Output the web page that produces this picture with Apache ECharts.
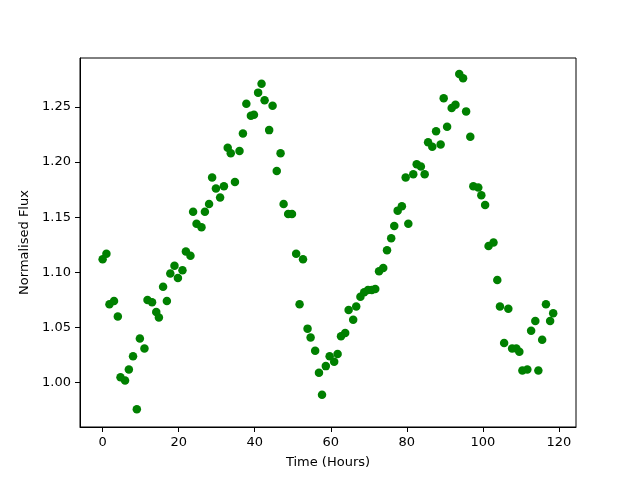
<!DOCTYPE html>
<html>
<head>
<meta charset="utf-8">
<script src="https://cdn.jsdelivr.net/npm/echarts@6/dist/echarts.min.js"></script>
<style>
  html, body { margin: 0; padding: 0; background: #fff; }
  #chart { width: 640px; height: 480px; }
</style>
</head>
<body>
<div id="chart"></div>
<script>
// time (hours) and normalised flux
var hours = [
  0, 1, 1.8, 3, 4, 4.7, 5.9, 6.9, 8, 9,
  9.8, 11, 11.8, 13, 14.1, 14.8, 15.9, 16.9, 17.8, 18.9,
  19.8, 21, 21.9, 23.1, 23.8, 24.7, 26, 26.9, 28, 28.8,
  29.8, 30.9, 31.9, 32.9, 33.7, 34.8, 36, 36.9, 37.8, 39,
  39.8, 40.9, 41.8, 42.6, 43.8, 44.7, 45.8, 46.8, 47.6, 48.8,
  49.8, 50.9, 51.8, 52.7, 53.9, 54.7, 55.9, 56.9, 57.7, 58.7,
  59.7, 60.9, 61.8, 62.7, 63.8, 64.7, 65.9, 66.7, 67.8, 68.8,
  69.8, 70.8, 71.7, 72.7, 73.8, 74.8, 75.9, 76.7, 77.6, 78.7,
  79.7, 80.4, 81.7, 82.6, 83.7, 84.7, 85.6, 86.7, 87.7, 88.9,
  89.7, 90.6, 91.8, 92.8, 93.8, 94.8, 95.6, 96.7, 97.5, 98.8,
  99.6, 100.6, 101.5, 102.8, 103.8, 104.5, 105.6, 106.7, 107.7, 108.8,
  109.6, 110.4, 111.7, 112.7, 113.8, 114.6, 115.6, 116.6, 117.7, 118.5
];
var flux = [
  1.112, 1.117, 1.071, 1.074, 1.060, 1.005, 1.002, 1.012, 1.024, 0.976,
  1.040, 1.031, 1.075, 1.073, 1.064, 1.059, 1.087, 1.074, 1.099, 1.106,
  1.095, 1.102, 1.119, 1.115, 1.155, 1.144, 1.141, 1.155, 1.162, 1.186,
  1.176, 1.168, 1.178, 1.213, 1.208, 1.182, 1.210, 1.226, 1.253, 1.242,
  1.243, 1.263, 1.271, 1.256, 1.229, 1.251, 1.192, 1.208, 1.162, 1.153,
  1.153, 1.117, 1.071, 1.112, 1.049, 1.041, 1.029, 1.009, 0.989, 1.015,
  1.024, 1.019, 1.026, 1.042, 1.045, 1.066, 1.057, 1.069, 1.078, 1.082,
  1.084, 1.084, 1.085, 1.101, 1.104, 1.120, 1.131, 1.142, 1.156, 1.160,
  1.186, 1.144, 1.189, 1.198, 1.196, 1.189, 1.218, 1.214, 1.228, 1.216,
  1.258, 1.232, 1.249, 1.252, 1.280, 1.276, 1.246, 1.223, 1.178, 1.177,
  1.170, 1.161, 1.124, 1.127, 1.093, 1.069, 1.036, 1.067, 1.031, 1.031,
  1.028, 1.011, 1.012, 1.047, 1.056, 1.011, 1.039, 1.071, 1.056, 1.063
];
var xTicks = [0, 20, 40, 60, 80, 100, 120];
var yTicks = [1.00, 1.05, 1.10, 1.15, 1.20, 1.25];

var points = [];
for (var i = 0; i < hours.length; i++) {
  points.push([hours[i], flux[i]]);
}

var font = 'DejaVu Sans';
var chart = echarts.init(document.getElementById('chart'), null, { renderer: 'canvas' });
var option = {
  backgroundColor: '#ffffff',
  animation: false,
  grid: {
    left: 80,
    right: 64,
    top: 58,
    bottom: 53,
    show: true,
    borderColor: '#000',
    borderWidth: 1,
    backgroundColor: 'transparent'
  },
  xAxis: {
    type: 'value',
    min: -5.95,
    max: 124.5,
    name: 'Time (Hours)',
    nameLocation: 'middle',
    nameGap: 29,
    nameTextStyle: { color: '#000', fontFamily: font, fontSize: 13 },
    axisLine: { show: true, onZero: false, lineStyle: { color: '#000', width: 1 } },
    axisTick: { show: true, inside: false, length: 5, customValues: xTicks, lineStyle: { color: '#000' } },
    axisLabel: { color: '#000', fontFamily: font, fontSize: 13, margin: 9, customValues: xTicks },
    splitLine: { show: false }
  },
  yAxis: {
    type: 'value',
    min: 0.9598,
    max: 1.2944,
    name: 'Normalised Flux',
    nameLocation: 'middle',
    nameGap: 44,
    nameTextStyle: { color: '#000', fontFamily: font, fontSize: 13 },
    axisLine: { show: true, onZero: false, lineStyle: { color: '#000', width: 1 } },
    axisTick: { show: true, inside: false, length: 5, customValues: yTicks, lineStyle: { color: '#000' } },
    axisLabel: {
      color: '#000', fontFamily: font, fontSize: 13, margin: 9, customValues: yTicks,
      formatter: function (v) { return v.toFixed(2); }
    },
    splitLine: { show: false }
  },
  series: [{
    type: 'scatter',
    data: points,
    symbol: 'circle',
    symbolSize: 8.5,
    itemStyle: { color: '#008000', opacity: 1 }
  }]
};
chart.setOption(option);
</script>
</body>
</html>
